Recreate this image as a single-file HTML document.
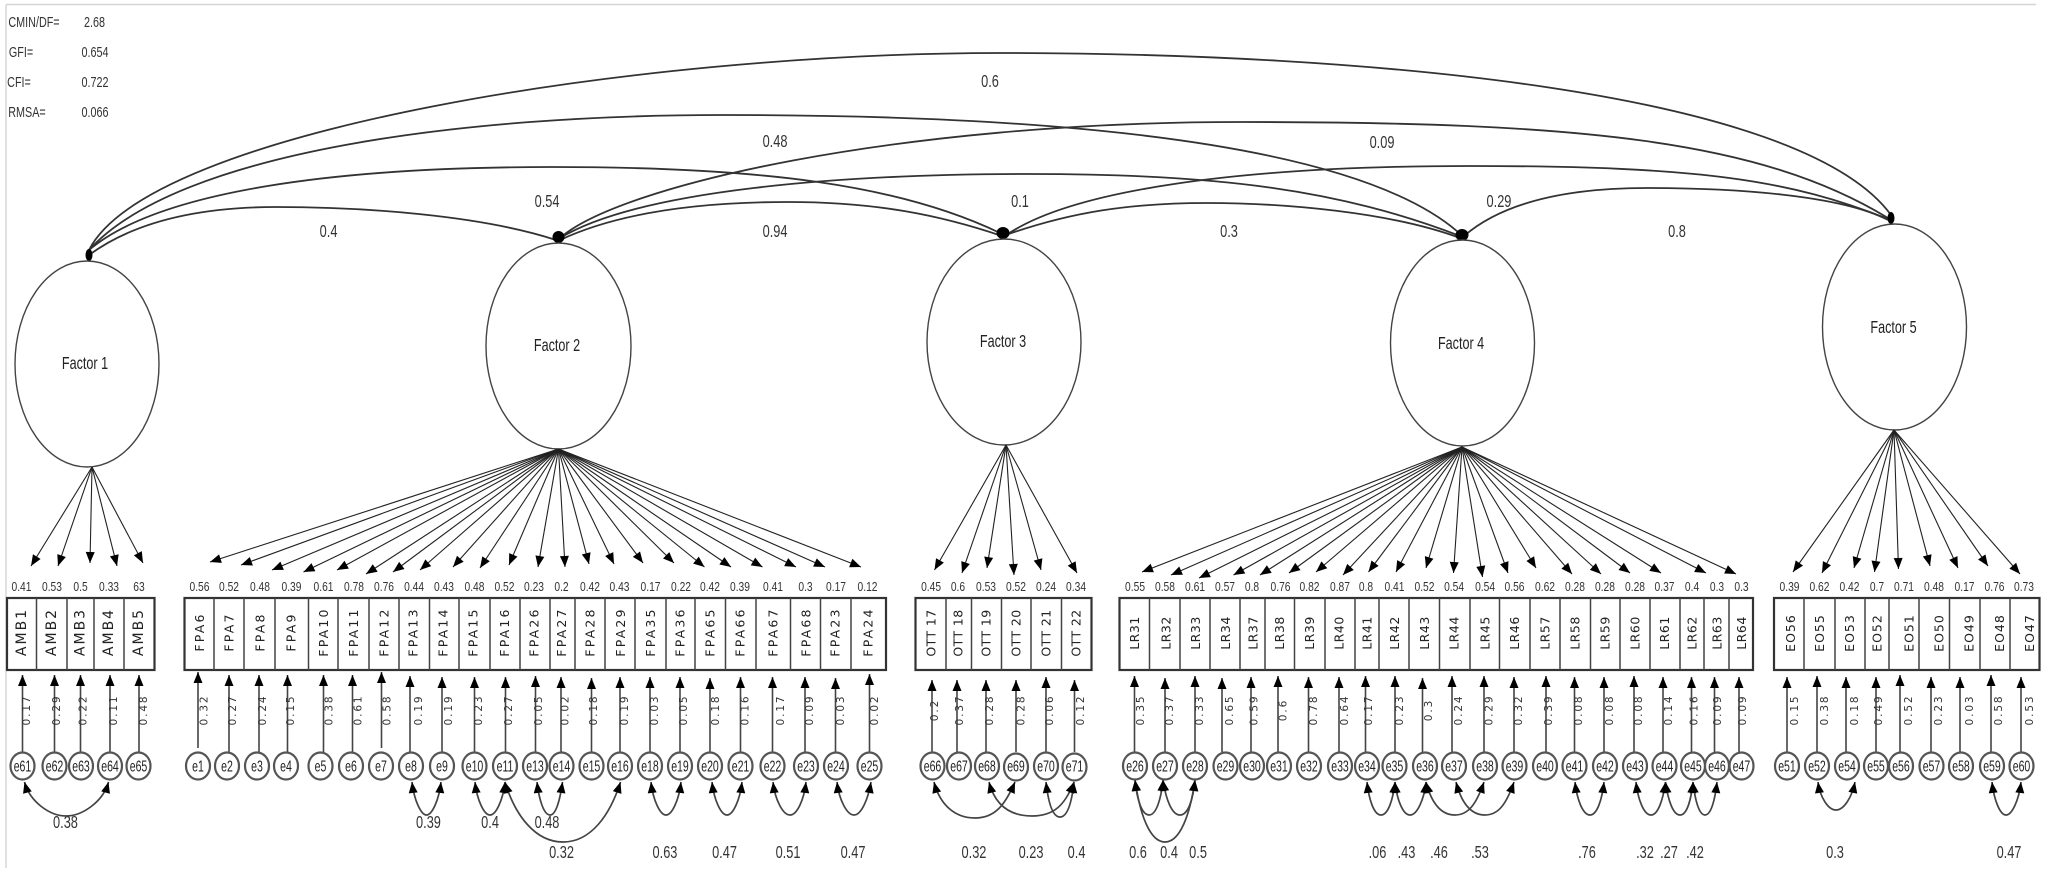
<!DOCTYPE html>
<html><head><meta charset="utf-8"><style>
html,body{margin:0;padding:0;background:#fff}
svg{display:block;filter:blur(.3px)}
text{font-family:"Liberation Sans",sans-serif;text-anchor:middle;dominant-baseline:central;fill:#222}
.n text{transform-box:fill-box;transform-origin:center}
.ld text{font-size:13px;transform:scaleX(.79);fill:#333}
.cv text{font-size:18px;transform:scaleX(.71);fill:#333}
.ci text{font-size:15.5px;transform:scaleX(.68);fill:#222}
.fa text{font-size:18px;transform:scaleX(.7);fill:#222}
.hd text{font-size:15px;transform:scaleX(.72);fill:#333}
.rt text{font-family:"DejaVu Sans",sans-serif;font-size:10.5px;letter-spacing:1.9px;fill:#333}
.bx text{font-family:"DejaVu Sans",sans-serif;font-size:12.5px;fill:#222}
.am text{font-size:14px;letter-spacing:2px}.fp text{letter-spacing:2.2px}.ot text{letter-spacing:.4px}.lr text{letter-spacing:.5px}.eo text{letter-spacing:1px}
.l{fill:none;stroke:#333;stroke-width:1.8}
.f{fill:none;stroke:#222;stroke-width:1.1;marker-end:url(#a)}
.v{fill:none;stroke:#444;stroke-width:1.6;marker-end:url(#a)}
.c{fill:none;stroke:#444;stroke-width:1.7;marker-start:url(#a);marker-end:url(#a)}
.e{fill:#fff;stroke:#444;stroke-width:1.4}
.o{fill:#fff;stroke:#555;stroke-width:2.2}
.b{fill:#fff;stroke:#333;stroke-width:2.2}
.d{stroke:#444;stroke-width:1.5;fill:none}
</style></head><body>
<svg xmlns="http://www.w3.org/2000/svg" width="2053" height="883" viewBox="0 0 2053 883">
<defs><marker id="a" markerUnits="userSpaceOnUse" markerWidth="11" markerHeight="9" refX="11" refY="4.5" orient="auto-start-reverse" overflow="visible"><path d="M0 0L11 4.5L0 9z" fill="#000"/></marker></defs>
<rect width="2053" height="883" fill="#fff"/>
<path d="M6 4.5H2036M6 4.5V868" stroke="#d4d4d4" stroke-width="1.4" fill="none"/>

<!-- covariances between factors -->
<path class="l" d="M89 250C150 130 640 53 1000 53S1800 90 1891 215"/>
<path class="l" d="M89 250C180 150 470 115 723 115S1340 130 1458 232"/>
<path class="l" d="M89 250C160 190 340 167 552 167S900 185 1000 233"/>
<path class="l" d="M89 255C130 225 190 207 276 207S480 215 556 240"/>
<path class="l" d="M560 238C620 185 900 122 1240 122S1760 140 1888 218"/>
<path class="l" d="M560 238C640 190 840 174 1030 174S1340 190 1460 236"/>
<path class="l" d="M560 240C620 212 700 202 788 202S940 215 1002 236"/>
<path class="l" d="M1003 236C1070 212 1130 203 1207 203S1390 212 1460 238"/>
<path class="l" d="M1005 236C1070 190 1240 166 1470 166S1790 180 1888 219"/>
<path class="l" d="M1464 236C1500 205 1560 188 1647 188S1840 195 1888 220"/>
<g fill="#000"><ellipse cx="89" cy="255" rx="3.5" ry="6"/><ellipse cx="558.5" cy="237" rx="6" ry="6"/><ellipse cx="1003" cy="233" rx="6.5" ry="6"/><ellipse cx="1462" cy="235" rx="6.5" ry="6"/><ellipse cx="1891" cy="218" rx="3.5" ry="6"/></g>

<!-- factors -->
<ellipse class="e" cx="87" cy="364" rx="72" ry="103"/>
<ellipse class="e" cx="558.5" cy="346" rx="72.5" ry="103"/>
<ellipse class="e" cx="1004" cy="342" rx="77" ry="103"/>
<ellipse class="e" cx="1462.5" cy="343" rx="72" ry="103"/>
<ellipse class="e" cx="1894.5" cy="327" rx="72" ry="103"/>
<g class="n fa"><text x="85" y="364">Factor 1</text><text x="557" y="346">Factor 2</text><text x="1003" y="342">Factor 3</text><text x="1461" y="344">Factor 4</text><text x="1893.5" y="328">Factor 5</text></g>

<g class="n hd">
<text x="34" y="22">CMIN/DF=</text><text x="94.5" y="22">2.68</text>
<text x="21" y="52">GFI=</text><text x="95" y="52">0.654</text>
<text x="19" y="82">CFI=</text><text x="95" y="82">0.722</text>
<text x="27" y="112">RMSA=</text><text x="95" y="112">0.066</text>
</g>
<g class="n cv">
<text x="990" y="82">0.6</text><text x="775" y="142">0.48</text><text x="547" y="202">0.54</text><text x="1020" y="202">0.1</text><text x="328.5" y="232">0.4</text><text x="775" y="232">0.94</text><text x="1382" y="143">0.09</text><text x="1499" y="202">0.29</text><text x="1229" y="232">0.3</text><text x="1677" y="232">0.8</text>
<text x="65.5" y="823">0.38</text><text x="428.5" y="823">0.39</text><text x="490" y="823">0.4</text><text x="547" y="823">0.48</text>
<text x="561.5" y="853">0.32</text><text x="665" y="853">0.63</text><text x="724.5" y="853">0.47</text><text x="788" y="853">0.51</text><text x="853" y="853">0.47</text><text x="974" y="853">0.32</text><text x="1031" y="853">0.23</text><text x="1076.5" y="853">0.4</text><text x="1138" y="853">0.6</text><text x="1169" y="853">0.4</text><text x="1198" y="853">0.5</text><text x="1377.5" y="853">.06</text><text x="1406.5" y="853">.43</text><text x="1439" y="853">.46</text><text x="1480" y="853">.53</text><text x="1587" y="853">.76</text><text x="1645" y="853">.32</text><text x="1669" y="853">.27</text><text x="1695" y="853">.42</text><text x="1835" y="853">0.3</text><text x="2009" y="853">0.47</text>
</g>

<!-- factor to item arrows -->
<path class="f" d="M92 467L31 566"/><path class="f" d="M92 467L58 566"/><path class="f" d="M92 467L90 563"/><path class="f" d="M92 467L117 566"/><path class="f" d="M92 467L143 563"/>
<path class="f" d="M558.5 449L210 562"/><path class="f" d="M558.5 449L241 565"/><path class="f" d="M558.5 449L272 570"/><path class="f" d="M558.5 449L303.5 572"/><path class="f" d="M558.5 449L337 570"/><path class="f" d="M558.5 449L366 574"/><path class="f" d="M558.5 449L393 572"/><path class="f" d="M558.5 449L420 570"/><path class="f" d="M558.5 449L453 567"/><path class="f" d="M558.5 449L480 568"/><path class="f" d="M558.5 449L509 565"/><path class="f" d="M558.5 449L538 567"/><path class="f" d="M558.5 449L565 567"/><path class="f" d="M558.5 449L589 564"/><path class="f" d="M558.5 449L614 564"/><path class="f" d="M558.5 449L643 563"/><path class="f" d="M558.5 449L674 563"/><path class="f" d="M558.5 449L704.5 567"/><path class="f" d="M558.5 449L731 567"/><path class="f" d="M558.5 449L762.5 567"/><path class="f" d="M558.5 449L796 567"/><path class="f" d="M558.5 449L825 567"/><path class="f" d="M558.5 449L861 567"/>
<path class="f" d="M1006 445L934.5 570"/><path class="f" d="M1006 445L962 573"/><path class="f" d="M1006 445L987 568"/><path class="f" d="M1006 445L1014 575"/><path class="f" d="M1006 445L1041 570"/><path class="f" d="M1006 445L1077 573"/>
<path class="f" d="M1462 447L1142 572"/><path class="f" d="M1462 447L1171 575"/><path class="f" d="M1462 447L1199 578"/><path class="f" d="M1462 447L1233.5 575"/><path class="f" d="M1462 447L1260 575"/><path class="f" d="M1462 447L1289 573"/><path class="f" d="M1462 447L1316 572"/><path class="f" d="M1462 447L1343 575"/><path class="f" d="M1462 447L1368.5 572"/><path class="f" d="M1462 447L1396 572"/><path class="f" d="M1462 447L1426 568"/><path class="f" d="M1462 447L1453.5 573"/><path class="f" d="M1462 447L1482.5 577"/><path class="f" d="M1462 447L1508 573"/><path class="f" d="M1462 447L1536 568"/><path class="f" d="M1462 447L1572 574"/><path class="f" d="M1462 447L1601 574"/><path class="f" d="M1462 447L1630 573"/><path class="f" d="M1462 447L1661 573"/><path class="f" d="M1462 447L1706 573"/><path class="f" d="M1462 447L1736 574"/>
<path class="f" d="M1894 430L1793 572"/><path class="f" d="M1894 430L1822 573"/><path class="f" d="M1894 430L1854 568"/><path class="f" d="M1894 430L1874.5 572"/><path class="f" d="M1894 430L1898.5 569"/><path class="f" d="M1894 430L1930 566"/><path class="f" d="M1894 430L1958 568"/><path class="f" d="M1894 430L1988 566"/><path class="f" d="M1894 430L2020 574"/>

<!-- loadings -->
<g class="n ld" transform="translate(0,587)">
<text x="21.5">0.41</text><text x="52">0.53</text><text x="80.5">0.5</text><text x="109">0.33</text><text x="139">63</text>
<text x="199.5">0.56</text><text x="229">0.52</text><text x="260">0.48</text><text x="291.5">0.39</text><text x="323.5">0.61</text><text x="354">0.78</text><text x="384">0.76</text><text x="414">0.44</text><text x="444">0.43</text><text x="474.5">0.48</text><text x="504.5">0.52</text><text x="534">0.23</text><text x="561.5">0.2</text><text x="590">0.42</text><text x="619.5">0.43</text><text x="650.5">0.17</text><text x="681">0.22</text><text x="710">0.42</text><text x="740">0.39</text><text x="773">0.41</text><text x="805.5">0.3</text><text x="836">0.17</text><text x="867.5">0.12</text>
<text x="931">0.45</text><text x="958">0.6</text><text x="986">0.53</text><text x="1016">0.52</text><text x="1046">0.24</text><text x="1076">0.34</text>
<text x="1135">0.55</text><text x="1165">0.58</text><text x="1195">0.61</text><text x="1225">0.57</text><text x="1252">0.8</text><text x="1280.5">0.76</text><text x="1309.5">0.82</text><text x="1340">0.87</text><text x="1366">0.8</text><text x="1394.5">0.41</text><text x="1424.5">0.52</text><text x="1454">0.54</text><text x="1485">0.54</text><text x="1514.5">0.56</text><text x="1545">0.62</text><text x="1575">0.28</text><text x="1605">0.28</text><text x="1635">0.28</text><text x="1664.5">0.37</text><text x="1692">0.4</text><text x="1717">0.3</text><text x="1741.5">0.3</text>
<text x="1789.5">0.39</text><text x="1819.5">0.62</text><text x="1849.5">0.42</text><text x="1877">0.7</text><text x="1904">0.71</text><text x="1934">0.48</text><text x="1964.5">0.17</text><text x="1994.5">0.76</text><text x="2024">0.73</text>
</g>

<!-- item boxes -->
<rect class="b" x="7" y="598" width="147.5" height="72"/>
<rect class="b" x="184.5" y="598" width="701.5" height="72"/>
<rect class="b" x="915.5" y="598" width="176" height="72"/>
<rect class="b" x="1119.5" y="598" width="633.5" height="72"/>
<rect class="b" x="1774" y="598" width="265.5" height="72"/>
<path class="d" d="M36.5 598V670M67 598V670M94 598V670M124 598V670M214 598V670M244 598V670M275 598V670M308.5 598V670M338 598V670M369 598V670M399 598V670M429.5 598V670M459 598V670M490 598V670M520 598V670M550 598V670M575 598V670M605 598V670M635 598V670M666 598V670M695 598V670M725.5 598V670M756 598V670M790.5 598V670M820.5 598V670M851 598V670M946 598V670M971.5 598V670M1001.5 598V670M1031 598V670M1061.5 598V670M1149.5 598V670M1180 598V670M1210 598V670M1240 598V670M1265 598V670M1294.5 598V670M1325 598V670M1355 598V670M1379 598V670M1409 598V670M1439.5 598V670M1470 598V670M1499.5 598V670M1530 598V670M1560 598V670M1590.5 598V670M1620 598V670M1650 598V670M1680 598V670M1704 598V670M1729 598V670M1804 598V670M1835 598V670M1865 598V670M1889 598V670M1919 598V670M1949.5 598V670M1980 598V670M2010 598V670"/>

<g class="bx am">
<text transform="translate(22,632) rotate(-90)">AMB1</text><text transform="translate(52,632) rotate(-90)">AMB2</text><text transform="translate(80.5,632) rotate(-90)">AMB3</text><text transform="translate(109,632) rotate(-90)">AMB4</text><text transform="translate(139,632) rotate(-90)">AMB5</text>
</g>
<g class="bx fp">
<text transform="translate(199.5,632) rotate(-90)">FPA6</text><text transform="translate(229,632) rotate(-90)">FPA7</text><text transform="translate(260,632) rotate(-90)">FPA8</text><text transform="translate(291,632) rotate(-90)">FPA9</text><text transform="translate(323.5,632) rotate(-90)">FPA10</text><text transform="translate(353.5,632) rotate(-90)">FPA11</text><text transform="translate(384,632) rotate(-90)">FPA12</text><text transform="translate(413,632) rotate(-90)">FPA13</text><text transform="translate(443,632) rotate(-90)">FPA14</text><text transform="translate(473,632) rotate(-90)">FPA15</text><text transform="translate(504.5,632) rotate(-90)">FPA16</text><text transform="translate(534,632) rotate(-90)">FPA26</text><text transform="translate(561.5,632) rotate(-90)">FPA27</text><text transform="translate(590,632) rotate(-90)">FPA28</text><text transform="translate(620.5,632) rotate(-90)">FPA29</text><text transform="translate(650.5,632) rotate(-90)">FPA35</text><text transform="translate(680,632) rotate(-90)">FPA36</text><text transform="translate(710,632) rotate(-90)">FPA65</text><text transform="translate(740,632) rotate(-90)">FPA66</text><text transform="translate(773,632) rotate(-90)">FPA67</text><text transform="translate(806,632) rotate(-90)">FPA68</text><text transform="translate(835,632) rotate(-90)">FPA23</text><text transform="translate(868,632) rotate(-90)">FPA24</text>
</g>
<g class="bx ot">
<text transform="translate(931,633) rotate(-90)">OTT 17</text><text transform="translate(958,633) rotate(-90)">OTT 18</text><text transform="translate(986,633) rotate(-90)">OTT 19</text><text transform="translate(1016,633) rotate(-90)">OTT 20</text><text transform="translate(1046,633) rotate(-90)">OTT 21</text><text transform="translate(1076,633) rotate(-90)">OTT 22</text>
</g>
<g class="bx lr">
<text transform="translate(1134.5,633) rotate(-90)">LR31</text><text transform="translate(1166,633) rotate(-90)">LR32</text><text transform="translate(1195.5,633) rotate(-90)">LR33</text><text transform="translate(1225.5,633) rotate(-90)">LR34</text><text transform="translate(1253,633) rotate(-90)">LR37</text><text transform="translate(1279.5,633) rotate(-90)">LR38</text><text transform="translate(1309.5,633) rotate(-90)">LR39</text><text transform="translate(1339,633) rotate(-90)">LR40</text><text transform="translate(1367,633) rotate(-90)">LR41</text><text transform="translate(1394.5,633) rotate(-90)">LR42</text><text transform="translate(1424.5,633) rotate(-90)">LR43</text><text transform="translate(1454,633) rotate(-90)">LR44</text><text transform="translate(1485,633) rotate(-90)">LR45</text><text transform="translate(1514.5,633) rotate(-90)">LR46</text><text transform="translate(1545,633) rotate(-90)">LR57</text><text transform="translate(1575,633) rotate(-90)">LR58</text><text transform="translate(1605,633) rotate(-90)">LR59</text><text transform="translate(1635,633) rotate(-90)">LR60</text><text transform="translate(1664.5,633) rotate(-90)">LR61</text><text transform="translate(1692,633) rotate(-90)">LR62</text><text transform="translate(1717,633) rotate(-90)">LR63</text><text transform="translate(1741.5,633) rotate(-90)">LR64</text>
</g>
<g class="bx eo">
<text transform="translate(1790.5,633) rotate(-90)">EO56</text><text transform="translate(1819.5,633) rotate(-90)">EO55</text><text transform="translate(1849.5,633) rotate(-90)">EO53</text><text transform="translate(1877,633) rotate(-90)">EO52</text><text transform="translate(1909,633) rotate(-90)">EO51</text><text transform="translate(1939,633) rotate(-90)">EO50</text><text transform="translate(1969,633) rotate(-90)">EO49</text><text transform="translate(1999.5,633) rotate(-90)">EO48</text><text transform="translate(2029.5,633) rotate(-90)">EO47</text>
</g>

<!-- error to item arrows -->
<path class="v" d="M22.5 752V675"/><path class="v" d="M54.5 752V675"/><path class="v" d="M80.5 752V675"/><path class="v" d="M110 752V675"/><path class="v" d="M139 752V675"/>
<path class="v" d="M198 748V672"/><path class="v" d="M229 752V675"/><path class="v" d="M259 752V675"/><path class="v" d="M287.5 752V675"/><path class="v" d="M323.5 752V675"/><path class="v" d="M352.5 752V675"/><path class="v" d="M381.5 748V672"/><path class="v" d="M410 752V676"/><path class="v" d="M442 752V677"/><path class="v" d="M474.5 752V677"/><path class="v" d="M505.5 752V677"/><path class="v" d="M535.5 752V676"/><path class="v" d="M561 752V677"/><path class="v" d="M591.5 752V678"/><path class="v" d="M620 752V677"/><path class="v" d="M650 752V677"/><path class="v" d="M680 752V677"/><path class="v" d="M710 752V678"/><path class="v" d="M740.5 752V677"/><path class="v" d="M772.5 752V677"/><path class="v" d="M805 752V677"/><path class="v" d="M835.5 752V678"/><path class="v" d="M869.5 752V674"/>
<path class="v" d="M932 752V680"/><path class="v" d="M957 752V680"/><path class="v" d="M986 752V680"/><path class="v" d="M1016 752V680"/><path class="v" d="M1046 752V677"/><path class="v" d="M1074.5 752V680"/>
<path class="v" d="M1134.5 752V676"/><path class="v" d="M1165 752V678"/><path class="v" d="M1195 752V676"/><path class="v" d="M1222 752V678"/><path class="v" d="M1251 752V677"/><path class="v" d="M1278 752V676"/><path class="v" d="M1308.5 752V677"/><path class="v" d="M1339 752V677"/><path class="v" d="M1365.5 752V676"/><path class="v" d="M1395 752V676"/><path class="v" d="M1422.5 752V678"/><path class="v" d="M1452 752V676"/><path class="v" d="M1484 752V676"/><path class="v" d="M1514 752V677"/><path class="v" d="M1546 752V676"/><path class="v" d="M1574.5 752V677"/><path class="v" d="M1604 752V677"/><path class="v" d="M1634 752V676"/><path class="v" d="M1663 752V677"/><path class="v" d="M1691.5 752V677"/><path class="v" d="M1714.5 752V677"/><path class="v" d="M1739 752V677"/>
<path class="v" d="M1787 752V677"/><path class="v" d="M1817 752V676"/><path class="v" d="M1846 752V677"/><path class="v" d="M1876 752V677"/><path class="v" d="M1900 752V675"/><path class="v" d="M1931 752V677"/><path class="v" d="M1960 752V677"/><path class="v" d="M1991 752V675"/><path class="v" d="M2021 752V677"/>

<!-- rotated error loadings -->
<g class="rt">
<text transform="translate(27,710) rotate(-90)">0.17</text><text transform="translate(57,710) rotate(-90)">0.29</text><text transform="translate(83.5,710) rotate(-90)">0.22</text><text transform="translate(114,710) rotate(-90)">0.11</text><text transform="translate(144,710) rotate(-90)">0.48</text>
<text transform="translate(204.5,710) rotate(-90)">0.32</text><text transform="translate(233,710) rotate(-90)">0.27</text><text transform="translate(263,710) rotate(-90)">0.24</text><text transform="translate(291,710) rotate(-90)">0.15</text><text transform="translate(329.5,710) rotate(-90)">0.38</text><text transform="translate(358.5,710) rotate(-90)">0.61</text><text transform="translate(387.5,710) rotate(-90)">0.58</text><text transform="translate(419,710) rotate(-90)">0.19</text><text transform="translate(449,710) rotate(-90)">0.19</text><text transform="translate(479,710) rotate(-90)">0.23</text><text transform="translate(509,710) rotate(-90)">0.27</text><text transform="translate(539,710) rotate(-90)">0.05</text><text transform="translate(565.5,710) rotate(-90)">0.02</text><text transform="translate(594,710) rotate(-90)">0.18</text><text transform="translate(625,710) rotate(-90)">0.19</text><text transform="translate(655,710) rotate(-90)">0.03</text><text transform="translate(684,710) rotate(-90)">0.05</text><text transform="translate(716,710) rotate(-90)">0.18</text><text transform="translate(745.5,710) rotate(-90)">0.16</text><text transform="translate(781,710) rotate(-90)">0.17</text><text transform="translate(810,710) rotate(-90)">0.09</text><text transform="translate(841,710) rotate(-90)">0.03</text><text transform="translate(875,710) rotate(-90)">0.02</text>
<text transform="translate(935,710) rotate(-90)">0.2</text><text transform="translate(960,710) rotate(-90)">0.37</text><text transform="translate(990,710) rotate(-90)">0.28</text><text transform="translate(1021.5,710) rotate(-90)">0.28</text><text transform="translate(1050,710) rotate(-90)">0.06</text><text transform="translate(1081,710) rotate(-90)">0.12</text>
<text transform="translate(1141,710) rotate(-90)">0.35</text><text transform="translate(1170,710) rotate(-90)">0.37</text><text transform="translate(1200,710) rotate(-90)">0.33</text><text transform="translate(1230,710) rotate(-90)">0.65</text><text transform="translate(1254.5,710) rotate(-90)">0.59</text><text transform="translate(1283.5,710) rotate(-90)">0.6</text><text transform="translate(1314,710) rotate(-90)">0.78</text><text transform="translate(1345,710) rotate(-90)">0.64</text><text transform="translate(1369,710) rotate(-90)">0.17</text><text transform="translate(1400,710) rotate(-90)">0.23</text><text transform="translate(1429,710) rotate(-90)">0.3</text><text transform="translate(1459,710) rotate(-90)">0.24</text><text transform="translate(1489.5,710) rotate(-90)">0.29</text><text transform="translate(1519,710) rotate(-90)">0.32</text><text transform="translate(1549,710) rotate(-90)">0.39</text><text transform="translate(1579,710) rotate(-90)">0.08</text><text transform="translate(1610,710) rotate(-90)">0.08</text><text transform="translate(1639,710) rotate(-90)">0.08</text><text transform="translate(1669,710) rotate(-90)">0.14</text><text transform="translate(1694.5,710) rotate(-90)">0.16</text><text transform="translate(1718,710) rotate(-90)">0.09</text><text transform="translate(1743,710) rotate(-90)">0.09</text>
<text transform="translate(1795,710) rotate(-90)">0.15</text><text transform="translate(1825,710) rotate(-90)">0.38</text><text transform="translate(1855,710) rotate(-90)">0.18</text><text transform="translate(1879,710) rotate(-90)">0.49</text><text transform="translate(1909,710) rotate(-90)">0.52</text><text transform="translate(1939,710) rotate(-90)">0.23</text><text transform="translate(1970,710) rotate(-90)">0.03</text><text transform="translate(1999,710) rotate(-90)">0.58</text><text transform="translate(2030,710) rotate(-90)">0.53</text>
</g>

<!-- error covariances -->
<path class="c" d="M24.5 782C30 802 50 816 66 816S103 802 108.5 782"/>
<path class="c" d="M412 782C414 800 421 815 426.5 815S439 800 441 782"/>
<path class="c" d="M475 782C477 800 484 815 490 815S503 800 505 782"/>
<path class="c" d="M505 782C515 815 535 842 563 842S610 815 620.5 782"/>
<path class="c" d="M537 782C539 800 544 815 550 815S560 800 562.5 782"/>
<path class="c" d="M651 782C653 800 660 815 666 815S679 800 681 782"/>
<path class="c" d="M712 782C714 800 721 815 727 815S740 800 742 782"/>
<path class="c" d="M773 782C775 800 783 815 790 815S804 800 806 782"/>
<path class="c" d="M837 782C839 800 847 815 854 815S868 800 871 782"/>
<path class="c" d="M934 782C940 805 955 818 975 818S1005 805 1015 782"/>
<path class="c" d="M989 782C995 805 1010 816 1032 816S1065 805 1074 782"/>
<path class="c" d="M1046 782C1048 800 1052 817 1060 817S1072 800 1074 782"/>
<path class="c" d="M1135 780C1137 800 1142 815 1149 815S1161 800 1163 780"/>
<path class="c" d="M1163 780C1166 800 1172 815 1180 815S1193 800 1195 780"/>
<path class="c" d="M1135 780C1140 815 1150 842 1165 842S1190 815 1195 780"/>
<path class="c" d="M1367 782C1369 800 1374 815 1381 815S1393 800 1395 782"/>
<path class="c" d="M1395 782C1397 800 1403 815 1410 815S1424 800 1426 782"/>
<path class="c" d="M1426 782C1432 805 1442 815 1455 815S1476 805 1484 782"/>
<path class="c" d="M1456 782C1462 805 1472 815 1485 815S1506 805 1514 782"/>
<path class="c" d="M1575 782C1577 800 1583 815 1590 815S1602 800 1604 782"/>
<path class="c" d="M1636 782C1638 800 1644 815 1651 815S1663 800 1665.5 782"/>
<path class="c" d="M1665.5 782C1668 800 1673 815 1680 815S1691 800 1693 782"/>
<path class="c" d="M1693 782C1695 800 1699 815 1705 815S1715 800 1717 782"/>
<path class="c" d="M1818 782C1820 797 1828 810 1836 810S1852 797 1855 782"/>
<path class="c" d="M1992 782C1994 800 2000 815 2006 815S2019 800 2021 782"/>

<!-- error circles -->
<g>
<ellipse class="o" cx="22.5" cy="766" rx="12" ry="13.5"/><ellipse class="o" cx="54.5" cy="766" rx="12" ry="13.5"/><ellipse class="o" cx="81" cy="766" rx="12" ry="13.5"/><ellipse class="o" cx="110" cy="766" rx="12" ry="13.5"/><ellipse class="o" cx="138.5" cy="766" rx="12" ry="13.5"/>
<ellipse class="o" cx="198" cy="766" rx="12" ry="13.5"/><ellipse class="o" cx="227" cy="766" rx="12" ry="13.5"/><ellipse class="o" cx="257" cy="766" rx="12" ry="13.5"/><ellipse class="o" cx="286" cy="766" rx="12" ry="13.5"/><ellipse class="o" cx="320.5" cy="766" rx="12" ry="13.5"/><ellipse class="o" cx="351" cy="766" rx="12" ry="13.5"/><ellipse class="o" cx="381" cy="766" rx="12" ry="13.5"/><ellipse class="o" cx="411" cy="766" rx="12" ry="13.5"/><ellipse class="o" cx="442" cy="766" rx="12" ry="13.5"/><ellipse class="o" cx="474.5" cy="766" rx="12" ry="13.5"/><ellipse class="o" cx="505" cy="766" rx="12" ry="13.5"/><ellipse class="o" cx="535" cy="766" rx="12" ry="13.5"/><ellipse class="o" cx="561.5" cy="766" rx="12" ry="13.5"/><ellipse class="o" cx="591.5" cy="766" rx="12" ry="13.5"/><ellipse class="o" cx="620" cy="766" rx="12" ry="13.5"/><ellipse class="o" cx="650" cy="766" rx="12" ry="13.5"/><ellipse class="o" cx="680" cy="766" rx="12" ry="13.5"/><ellipse class="o" cx="710" cy="766" rx="12" ry="13.5"/><ellipse class="o" cx="740.5" cy="766" rx="12" ry="13.5"/><ellipse class="o" cx="772.5" cy="766" rx="12" ry="13.5"/><ellipse class="o" cx="806" cy="766" rx="12" ry="13.5"/><ellipse class="o" cx="836" cy="766" rx="12" ry="13.5"/><ellipse class="o" cx="869.5" cy="766" rx="12" ry="13.5"/>
<ellipse class="o" cx="932.5" cy="766" rx="12" ry="13.5"/><ellipse class="o" cx="959" cy="766" rx="12" ry="13.5"/><ellipse class="o" cx="987" cy="766" rx="12" ry="13.5"/><ellipse class="o" cx="1016" cy="767" rx="12" ry="13.5"/><ellipse class="o" cx="1046" cy="766" rx="12" ry="13.5"/><ellipse class="o" cx="1074.5" cy="767" rx="12" ry="13.5"/>
<ellipse class="o" cx="1135" cy="766" rx="12" ry="13.5"/><ellipse class="o" cx="1165" cy="766" rx="12" ry="13.5"/><ellipse class="o" cx="1195" cy="766" rx="12" ry="13.5"/><ellipse class="o" cx="1225.5" cy="766" rx="12" ry="13.5"/><ellipse class="o" cx="1252" cy="766" rx="12" ry="13.5"/><ellipse class="o" cx="1279" cy="766" rx="12" ry="13.5"/><ellipse class="o" cx="1309" cy="766" rx="12" ry="13.5"/><ellipse class="o" cx="1340" cy="766" rx="12" ry="13.5"/><ellipse class="o" cx="1367" cy="766" rx="12" ry="13.5"/><ellipse class="o" cx="1394.5" cy="766" rx="12" ry="13.5"/><ellipse class="o" cx="1425" cy="766" rx="12" ry="13.5"/><ellipse class="o" cx="1454" cy="766" rx="12" ry="13.5"/><ellipse class="o" cx="1485" cy="766" rx="12" ry="13.5"/><ellipse class="o" cx="1514.5" cy="766" rx="12" ry="13.5"/><ellipse class="o" cx="1545" cy="766" rx="12" ry="13.5"/><ellipse class="o" cx="1574.5" cy="766" rx="12" ry="13.5"/><ellipse class="o" cx="1605" cy="766" rx="12" ry="13.5"/><ellipse class="o" cx="1635" cy="766" rx="12" ry="13.5"/><ellipse class="o" cx="1664.5" cy="766" rx="12" ry="13.5"/><ellipse class="o" cx="1693" cy="766" rx="12" ry="13.5"/><ellipse class="o" cx="1717" cy="766" rx="12" ry="13.5"/><ellipse class="o" cx="1741.5" cy="766" rx="12" ry="13.5"/>
<ellipse class="o" cx="1787" cy="766" rx="12" ry="13.5"/><ellipse class="o" cx="1817" cy="766" rx="12" ry="13.5"/><ellipse class="o" cx="1847" cy="766" rx="12" ry="13.5"/><ellipse class="o" cx="1876" cy="766" rx="12" ry="13.5"/><ellipse class="o" cx="1901" cy="766" rx="12" ry="13.5"/><ellipse class="o" cx="1931.5" cy="766" rx="12" ry="13.5"/><ellipse class="o" cx="1961" cy="766" rx="12" ry="13.5"/><ellipse class="o" cx="1992" cy="766" rx="12" ry="13.5"/><ellipse class="o" cx="2021.5" cy="766" rx="12" ry="13.5"/>
</g>
<g class="n ci" transform="translate(0,766)">
<text x="22.5">e61</text><text x="54.5">e62</text><text x="81">e63</text><text x="110">e64</text><text x="138.5">e65</text>
<text x="198">e1</text><text x="227">e2</text><text x="257">e3</text><text x="286">e4</text><text x="320.5">e5</text><text x="351">e6</text><text x="381">e7</text><text x="411">e8</text><text x="442">e9</text><text x="474.5">e10</text><text x="505">e11</text><text x="535">e13</text><text x="561.5">e14</text><text x="591.5">e15</text><text x="620">e16</text><text x="650">e18</text><text x="680">e19</text><text x="710">e20</text><text x="740.5">e21</text><text x="772.5">e22</text><text x="806">e23</text><text x="836">e24</text><text x="869.5">e25</text>
<text x="932.5">e66</text><text x="959">e67</text><text x="987">e68</text><text x="1016">e69</text><text x="1046">e70</text><text x="1074.5">e71</text>
<text x="1135">e26</text><text x="1165">e27</text><text x="1195">e28</text><text x="1225.5">e29</text><text x="1252">e30</text><text x="1279">e31</text><text x="1309">e32</text><text x="1340">e33</text><text x="1367">e34</text><text x="1394.5">e35</text><text x="1425">e36</text><text x="1454">e37</text><text x="1485">e38</text><text x="1514.5">e39</text><text x="1545">e40</text><text x="1574.5">e41</text><text x="1605">e42</text><text x="1635">e43</text><text x="1664.5">e44</text><text x="1693">e45</text><text x="1717">e46</text><text x="1741.5">e47</text>
<text x="1787">e51</text><text x="1817">e52</text><text x="1847">e54</text><text x="1876">e55</text><text x="1901">e56</text><text x="1931.5">e57</text><text x="1961">e58</text><text x="1992">e59</text><text x="2021.5">e60</text>
</g>
</svg>
</body></html>
